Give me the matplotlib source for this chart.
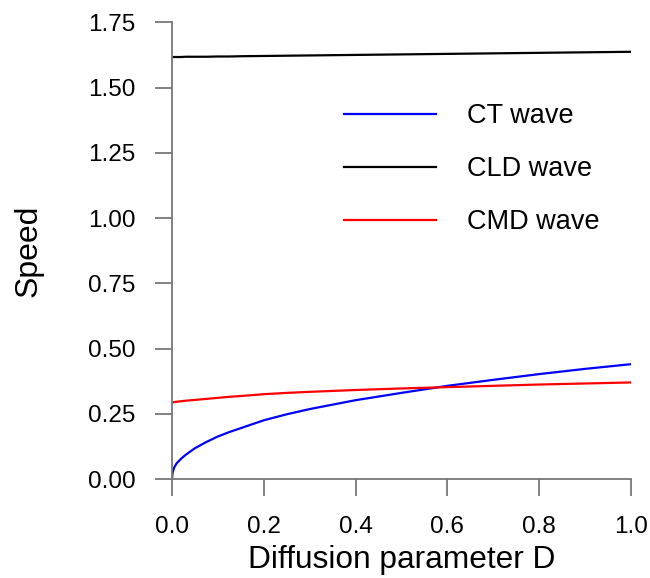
import matplotlib
matplotlib.use('Agg')
import matplotlib.pyplot as plt
import numpy as np

plt.rcParams['font.family'] = ['Liberation Sans', 'DejaVu Sans']

# wave speed against diffusion parameter D
D = [0, 0.001, 0.0025, 0.005, 0.01, 0.02, 0.03, 0.05, 0.075, 0.1, 0.125, 0.15, 0.2, 0.25,
     0.3, 0.4, 0.5, 0.6, 0.7, 0.8, 0.9, 1.0]
ct_speed = [0, 0.02, 0.032, 0.045, 0.06, 0.078, 0.093, 0.118, 0.142, 0.163, 0.18, 0.195, 0.225, 0.248,
            0.268, 0.302, 0.33, 0.357, 0.38, 0.402, 0.422, 0.44]
cld_speed = [1.617, 1.617, 1.617, 1.617, 1.617, 1.617, 1.618, 1.618, 1.618, 1.619, 1.619, 1.620, 1.621, 1.622,
             1.623, 1.625, 1.627, 1.629, 1.631, 1.633, 1.635, 1.637]
cmd_speed = [0.293, 0.293, 0.294, 0.295, 0.296, 0.298, 0.300, 0.303, 0.307, 0.311, 0.315, 0.318, 0.325, 0.330,
             0.334, 0.341, 0.347, 0.352, 0.357, 0.362, 0.366, 0.37]

xticks = [0.0, 0.2, 0.4, 0.6, 0.8, 1.0]
yticks = [0.0, 0.25, 0.5, 0.75, 1.0, 1.25, 1.5, 1.75]

fig = plt.figure(figsize=(6.5, 5.78), dpi=100)
ax = fig.add_axes([172/650, 99/578, 459/650, 456.7/578])

ax.plot(D, ct_speed, color='blue', lw=1.6, label='CT wave')
ax.plot(D, cld_speed, color='black', lw=1.6, label='CLD wave')
ax.plot(D, cmd_speed, color='red', lw=1.6, label='CMD wave')

ax.set_xlim(0, 1)
ax.set_ylim(0, 1.75)
ax.set_xticks(xticks)
ax.set_xticklabels(['%.1f' % v for v in xticks])
ax.set_yticks(yticks)
ax.set_yticklabels(['%.2f' % v for v in yticks])

for s in ['top', 'right']:
    ax.spines[s].set_visible(False)
for s in ['left', 'bottom']:
    ax.spines[s].set_color('#777777')
    ax.spines[s].set_linewidth(1.3)
ax.tick_params(axis='both', direction='out', length=12.5, width=1.3,
               color='#777777', labelsize=17.5, pad=14)

ax.set_xlabel('Diffusion parameter D', fontsize=22.8, labelpad=5)
ax.set_ylabel('Speed', fontsize=23, labelpad=32)

ax.legend(loc='upper left', bbox_to_anchor=(344/650, 1 - 103/578),
          bbox_transform=fig.transFigure, frameon=False, fontsize=19.5,
          handlelength=3.4, handletextpad=1.15, labelspacing=1.0, borderpad=0,
          borderaxespad=0)

plt.savefig('out.png', dpi=100)
